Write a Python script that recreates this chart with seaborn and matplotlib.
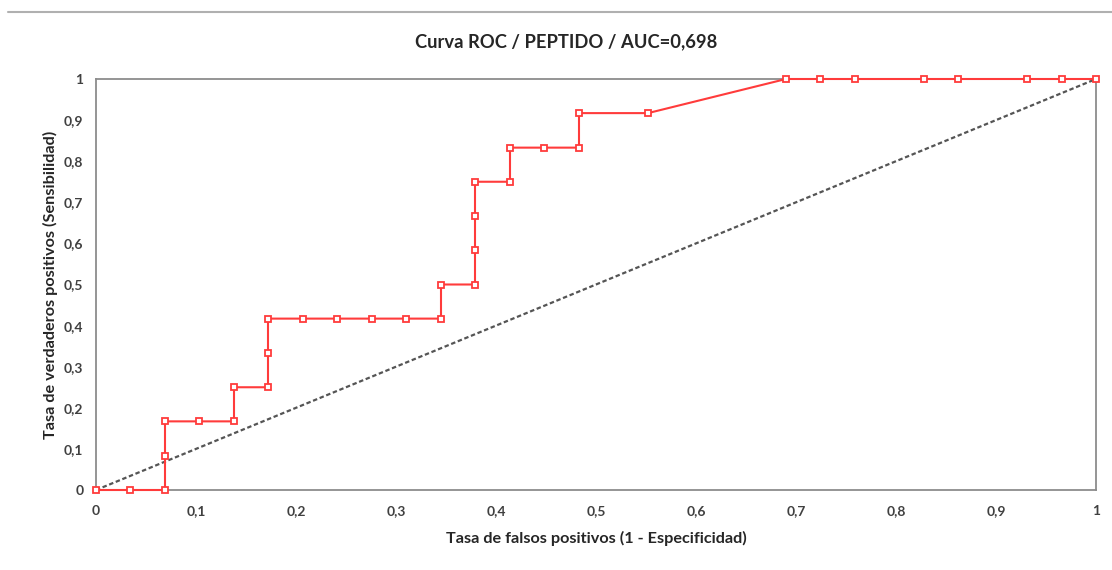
import matplotlib
matplotlib.use("Agg")
import matplotlib.pyplot as plt
import matplotlib.ticker as mticker
from matplotlib.lines import Line2D
import seaborn as sns
import pandas as pd

# ROC points
fpr = [0.0, 0.034, 0.069, 0.069, 0.069, 0.103, 0.138, 0.138, 0.172, 0.172, 0.172,
       0.207, 0.241, 0.276, 0.310, 0.345, 0.345, 0.379, 0.379, 0.379, 0.379,
       0.414, 0.414, 0.448, 0.483, 0.483, 0.552, 0.690, 0.724, 0.759, 0.828,
       0.862, 0.931, 0.966, 1.0]
tpr = [0.0, 0.0, 0.0, 0.083, 0.167, 0.167, 0.167, 0.25, 0.25, 0.333, 0.417,
       0.417, 0.417, 0.417, 0.417, 0.417, 0.5, 0.5, 0.583, 0.667, 0.75,
       0.75, 0.833, 0.833, 0.833, 0.917, 0.917, 1.0, 1.0, 1.0, 1.0,
       1.0, 1.0, 1.0, 1.0]
diag_x = [0.0, 1.0]
diag_y = [0.0, 1.0]
ticks = [0.0, 0.1, 0.2, 0.3, 0.4, 0.5, 0.6, 0.7, 0.8, 0.9, 1.0]

title = "Curva ROC / PEPTIDO / AUC=0,698"
xlabel = "Tasa de falsos positivos (1 - Especificidad)"
ylabel = "Tasa de verdaderos positivos (Sensibilidad)"

sns.set_theme(style="white")
plt.rcParams['font.family'] = ['Lato', 'DejaVu Sans']

fig = plt.figure(figsize=(11.12, 5.70), dpi=100)
ax = fig.add_axes([96/1112, 1-490/570, 1000/1112, 411/570])

roc = pd.DataFrame({"fpr": fpr, "tpr": tpr})
dg = pd.DataFrame({"x": diag_x, "y": diag_y})

sns.lineplot(data=dg, x="x", y="y", ax=ax, color="#555555", lw=1.6,
             linestyle=(0, (2, 1.2)), sort=False, estimator=None, zorder=2)
sns.lineplot(data=roc, x="fpr", y="tpr", ax=ax, color="#FF3B3B", lw=1.5,
             sort=False, estimator=None, marker="s", markersize=4.5,
             markerfacecolor="white", markeredgecolor="#FF3B3B",
             markeredgewidth=1.3, zorder=3, clip_on=False)

ax.set_xlim(0, 1)
ax.set_ylim(0, 1)
ax.set_xticks(ticks)
ax.set_yticks(ticks)
fmt = mticker.FuncFormatter(lambda v, p: ("%g" % round(v, 1)).replace(".", ","))
ax.xaxis.set_major_formatter(fmt)
ax.yaxis.set_major_formatter(fmt)
ax.tick_params(axis="both", direction="inout", length=6, width=1, color="#8c8c8c",
               labelsize=10, labelcolor="#404040", pad=6)
ax.tick_params(axis="x", pad=8)
for sp in ax.spines.values():
    sp.set_color("#8c8c8c")
    sp.set_linewidth(1.3)
    sp.set_zorder(1)
for lab in ax.get_xticklabels() + ax.get_yticklabels():
    lab.set_fontweight("bold")

ax.set_xlabel(xlabel, fontsize=11.7, fontweight="bold", color="#262626", labelpad=10)
ax.set_ylabel(ylabel, fontsize=11.7, fontweight="bold", color="#262626", labelpad=4)
fig.text(566/1112, 1-42/570, title, ha="center", va="center", fontsize=13.2,
         fontweight="bold", color="#262626")

# chart-area border at the top
fig.add_artist(Line2D([8/1112, 1.0], [1-12/570, 1-12/570], color="#b0b0b0", lw=1.5))

fig.savefig("out.png", dpi=100)
